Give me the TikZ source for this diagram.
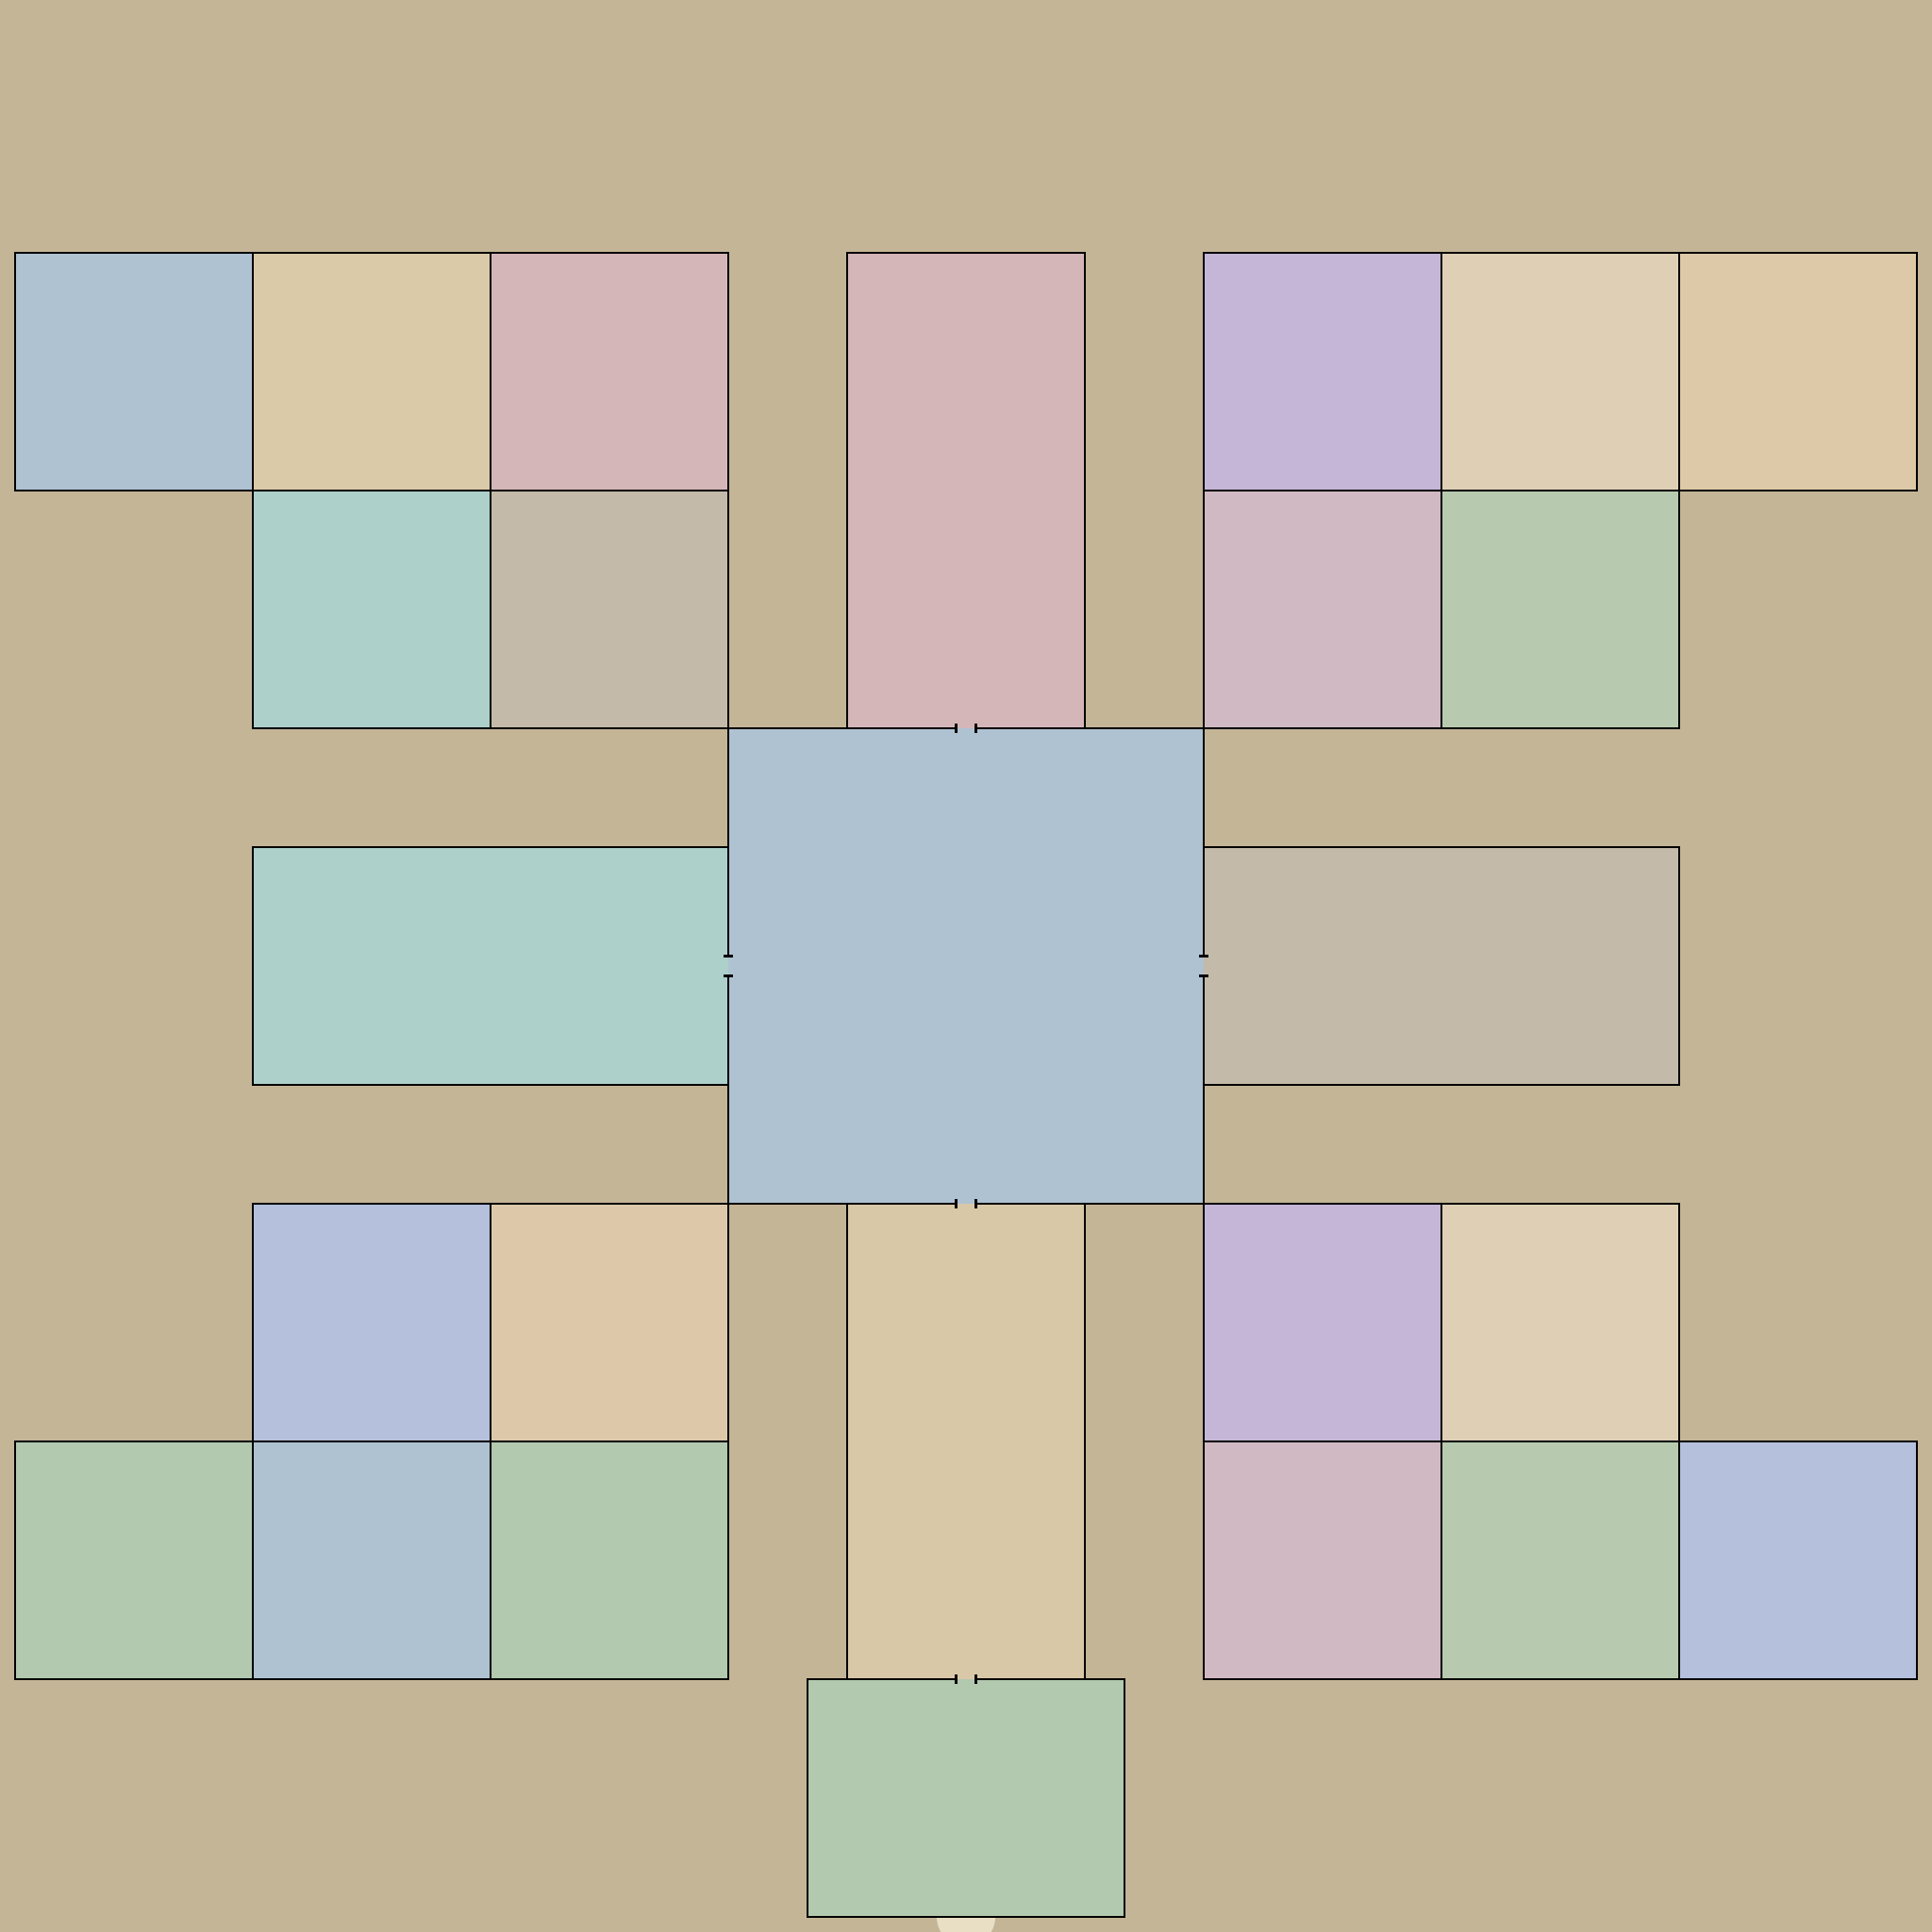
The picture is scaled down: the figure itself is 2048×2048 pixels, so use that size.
\documentclass[tikz,border=0pt]{standalone}
\definecolor{bg}{HTML}{C4B597}
\definecolor{rblue}{HTML}{AFC2D2}
\definecolor{rtan}{HTML}{DBCAA8}
\definecolor{rpink}{HTML}{D5B6B8}
\definecolor{rteal}{HTML}{ADD0CA}
\definecolor{rgreige}{HTML}{C4BAA9}
\definecolor{rpurple}{HTML}{C5B6D7}
\definecolor{rlbeige}{HTML}{DFD0B5}
\definecolor{rbeige}{HTML}{DDC9A8}
\definecolor{rmauve}{HTML}{D0B9C3}
\definecolor{rgreen}{HTML}{B7CAAF}
\definecolor{rgreen2}{HTML}{B2C8AF}
\definecolor{rlav}{HTML}{B5C0DC}
\definecolor{rpeach}{HTML}{DDC9AA}
\definecolor{rctan}{HTML}{D9C8A7}
\definecolor{rcircle}{HTML}{E8DFC4}
\tikzset{
  room/.style={draw=black, line width=0.57pt},
  tick/.style={draw=black, line width=0.85pt},
}
% door in horizontal wall at (x,y): upper colour #3, lower colour #4
\newcommand{\hdoor}[4]{%
  \fill[#3] (#1-10.5,#2-1.6) rectangle (#1+10.5,#2);
  \fill[#4] (#1-10.5,#2) rectangle (#1+10.5,#2+1.6);
  \draw[tick] (#1-10.5,#2-5) -- (#1-10.5,#2+5);
  \draw[tick] (#1+10.5,#2-5) -- (#1+10.5,#2+5);
}
% door in vertical wall at (x,y): left colour #3, right colour #4
\newcommand{\vdoor}[4]{%
  \fill[#3] (#1-1.6,#2-10.5) rectangle (#1,#2+10.5);
  \fill[#4] (#1,#2-10.5) rectangle (#1+1.6,#2+10.5);
  \draw[tick] (#1-5,#2-10.5) -- (#1+5,#2-10.5);
  \draw[tick] (#1-5,#2+10.5) -- (#1+5,#2+10.5);
}
\begin{document}
\begin{tikzpicture}[x=0.01cm,y=-0.01cm]
\fill[bg] (0,0) rectangle (2048,2048);
\useasboundingbox (0,0) rectangle (2048,2048);
% circle behind bottom room
\fill[rcircle] (1024,2032) circle (31);
% top-left block
\draw[room,fill=rblue] (16,268) rectangle (268,520);
\draw[room,fill=rtan] (268,268) rectangle (520,520);
\draw[room,fill=rpink] (520,268) rectangle (772,520);
\draw[room,fill=rteal] (268,520) rectangle (520,772);
\draw[room,fill=rgreige] (520,520) rectangle (772,772);
% top centre corridor
\draw[room,fill=rpink] (898,268) rectangle (1150,772);
% top-right block
\draw[room,fill=rpurple] (1276,268) rectangle (1528,520);
\draw[room,fill=rlbeige] (1528,268) rectangle (1780,520);
\draw[room,fill=rbeige] (1780,268) rectangle (2032,520);
\draw[room,fill=rmauve] (1276,520) rectangle (1528,772);
\draw[room,fill=rgreen] (1528,520) rectangle (1780,772);
% middle wings
\draw[room,fill=rteal] (268,898) rectangle (772,1150);
\draw[room,fill=rgreige] (1276,898) rectangle (1780,1150);
% bottom centre corridor
\draw[room,fill=rctan] (898,1276) rectangle (1150,1780);
% bottom-left block
\draw[room,fill=rlav] (268,1276) rectangle (520,1528);
\draw[room,fill=rpeach] (520,1276) rectangle (772,1528);
\draw[room,fill=rgreen2] (16,1528) rectangle (268,1780);
\draw[room,fill=rblue] (268,1528) rectangle (520,1780);
\draw[room,fill=rgreen2] (520,1528) rectangle (772,1780);
% bottom-right block
\draw[room,fill=rpurple] (1276,1276) rectangle (1528,1528);
\draw[room,fill=rlbeige] (1528,1276) rectangle (1780,1528);
\draw[room,fill=rmauve] (1276,1528) rectangle (1528,1780);
\draw[room,fill=rgreen] (1528,1528) rectangle (1780,1780);
\draw[room,fill=rlav] (1780,1528) rectangle (2032,1780);
% bottom entrance room
\draw[room,fill=rgreen2] (856,1780) rectangle (1192,2032);
% central hall
\draw[room,fill=rblue] (772,772) rectangle (1276,1276);
% doors
\hdoor{1024}{772}{rpink}{rblue}
\hdoor{1024}{1276}{rblue}{rctan}
\hdoor{1024}{1780}{rctan}{rgreen2}
\vdoor{772}{1024}{rteal}{rblue}
\vdoor{1276}{1024}{rblue}{rgreige}
\end{tikzpicture}
\end{document}
